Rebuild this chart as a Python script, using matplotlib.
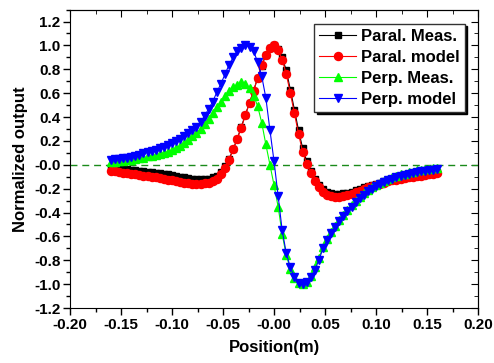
import numpy as np
import matplotlib
matplotlib.use("Agg")
import matplotlib.pyplot as plt

plt.rcParams['font.family'] = ['Liberation Sans', 'DejaVu Sans']
plt.rcParams['font.weight'] = 'bold'

# position grid in mm
position_mm = [-160, -156, -152, -148, -144, -140, -136, -132, -128, -124,
               -120, -116, -112, -108, -104, -100, -96, -92, -88, -84,
               -80, -76, -72, -68, -64, -60, -56, -52, -48, -44,
               -40, -36, -32, -28, -24, -20, -16, -12, -8, -4,
               0, 4, 8, 12, 16, 20, 24, 28, 32, 36,
               40, 44, 48, 52, 56, 60, 64, 68, 72, 76,
               80, 84, 88, 92, 96, 100, 104, 108, 112, 116,
               120, 124, 128, 132, 136, 140, 144, 148, 152, 156, 160]

paral_meas = [-0.02, -0.025, -0.03, -0.03, -0.035, -0.04, -0.045, -0.05, -0.055, -0.06,
              -0.06, -0.065, -0.07, -0.075, -0.08, -0.085, -0.09, -0.10, -0.105, -0.11,
              -0.115, -0.12, -0.12, -0.12, -0.115, -0.105, -0.09, -0.06, -0.01, 0.05,
              0.13, 0.22, 0.32, 0.42, 0.52, 0.62, 0.73, 0.83, 0.92, 0.98,
              1.00, 0.97, 0.90, 0.79, 0.63, 0.46, 0.29, 0.14, 0.03, -0.05,
              -0.12, -0.17, -0.20, -0.23, -0.24, -0.245, -0.245, -0.24, -0.235, -0.225,
              -0.215, -0.205, -0.19, -0.18, -0.17, -0.16, -0.15, -0.14, -0.13, -0.12,
              -0.115, -0.11, -0.10, -0.095, -0.09, -0.085, -0.08, -0.075, -0.07, -0.065, -0.06]

paral_model = [-0.05, -0.055, -0.06, -0.065, -0.07, -0.075, -0.08, -0.085, -0.09, -0.095,
               -0.10, -0.105, -0.11, -0.12, -0.125, -0.13, -0.14, -0.145, -0.15, -0.155,
               -0.16, -0.16, -0.16, -0.155, -0.15, -0.135, -0.115, -0.08, -0.03, 0.04,
               0.13, 0.22, 0.31, 0.42, 0.52, 0.62, 0.73, 0.84, 0.92, 0.98,
               1.00, 0.96, 0.88, 0.76, 0.60, 0.43, 0.26, 0.11, 0.01, -0.07,
               -0.14, -0.19, -0.23, -0.25, -0.265, -0.27, -0.27, -0.265, -0.255, -0.245,
               -0.23, -0.22, -0.205, -0.19, -0.18, -0.17, -0.16, -0.15, -0.14, -0.13,
               -0.125, -0.12, -0.11, -0.105, -0.10, -0.095, -0.09, -0.085, -0.08, -0.075, -0.07]

perp_meas = [0.02, 0.02, 0.03, 0.03, 0.04, 0.04, 0.05, 0.055, 0.06, 0.07,
             0.075, 0.08, 0.09, 0.10, 0.11, 0.12, 0.14, 0.16, 0.18, 0.21,
             0.24, 0.27, 0.30, 0.34, 0.38, 0.43, 0.48, 0.53, 0.58, 0.62,
             0.65, 0.67, 0.69, 0.68, 0.64, 0.58, 0.49, 0.35, 0.17, 0.00,
             -0.17, -0.35, -0.58, -0.76, -0.87, -0.95, -0.99, -1.00, -0.98, -0.93,
             -0.86, -0.78, -0.69, -0.62, -0.56, -0.51, -0.46, -0.42, -0.38, -0.34,
             -0.30, -0.27, -0.24, -0.21, -0.19, -0.17, -0.15, -0.135, -0.12, -0.10,
             -0.095, -0.08, -0.075, -0.06, -0.06, -0.045, -0.045, -0.035, -0.035, -0.025, -0.03]

perp_model = [0.04, 0.045, 0.05, 0.055, 0.06, 0.065, 0.075, 0.085, 0.095, 0.105,
              0.115, 0.125, 0.14, 0.15, 0.165, 0.18, 0.20, 0.22, 0.24, 0.265,
              0.29, 0.32, 0.36, 0.41, 0.47, 0.53, 0.61, 0.68, 0.76, 0.84,
              0.90, 0.95, 0.98, 1.00, 0.99, 0.95, 0.86, 0.74, 0.56, 0.29,
              0.03, -0.26, -0.55, -0.74, -0.86, -0.94, -0.99, -1.00, -0.98, -0.94,
              -0.88, -0.80, -0.70, -0.63, -0.57, -0.52, -0.47, -0.43, -0.39, -0.35,
              -0.31, -0.28, -0.25, -0.22, -0.20, -0.18, -0.16, -0.145, -0.13, -0.115,
              -0.105, -0.095, -0.085, -0.075, -0.07, -0.06, -0.055, -0.05, -0.045, -0.04, -0.035]

pos = np.array(position_mm) / 1000.0

fig = plt.figure(figsize=(4.94, 3.63), dpi=100)
ax = fig.add_axes([0.1417, 0.1515, 0.826, 0.822])

ax.axhline(0, color='#1a8a1a', linestyle=(0, (5, 3.5)), linewidth=1.0, zorder=1)

ax.plot(pos, paral_meas, '-s', color='black', ms=5, lw=0.8, label='Paral. Meas.')
ax.plot(pos, paral_model, '-o', color='red', ms=5.8, lw=0.8, label='Paral. model')
ax.plot(pos, perp_meas, '-^', color='#00ff00', ms=6.4, lw=0.8, label='Perp. Meas.')
ax.plot(pos, perp_model, '-v', color='blue', ms=6.4, lw=0.8, label='Perp. model')

ax.set_xlim(-0.2, 0.2)
ax.set_ylim(-1.2, 1.3)
ax.set_xticks(np.arange(-0.2, 0.2001, 0.05))
ax.set_xticks(np.arange(-0.2, 0.2001, 0.025), minor=True)
ax.set_yticks(np.arange(-1.2, 1.2001, 0.2))
ax.set_yticks(np.arange(-1.2, 1.3001, 0.1), minor=True)
ax.xaxis.set_major_formatter(plt.FormatStrFormatter('%.2f'))
ax.yaxis.set_major_formatter(plt.FormatStrFormatter('%.1f'))
ax.tick_params(which='major', direction='out', length=5, width=1, labelsize=11, pad=2)
ax.tick_params(which='minor', direction='out', length=3, width=1)
for lab in ax.get_xticklabels() + ax.get_yticklabels():
    lab.set_fontweight('bold')

# inward ticks on top and right
top = ax.secondary_xaxis('top')
top.set_xticks(np.arange(-0.2, 0.2001, 0.05))
top.set_xticks(np.arange(-0.2, 0.2001, 0.025), minor=True)
top.tick_params(which='major', direction='in', length=5, labeltop=False)
top.tick_params(which='minor', direction='in', length=3)
right = ax.secondary_yaxis('right')
right.set_yticks(np.arange(-1.2, 1.2001, 0.2))
right.set_yticks(np.arange(-1.2, 1.3001, 0.1), minor=True)
right.tick_params(which='major', direction='in', length=5, labelright=False)
right.tick_params(which='minor', direction='in', length=3)

ax.set_xlabel('Position(m)', fontsize=12, fontweight='bold', labelpad=6)
ax.set_ylabel('Normalized output', fontsize=12, fontweight='bold', labelpad=4)

leg = ax.legend(loc='upper right', bbox_to_anchor=(0.967, 0.953), fontsize=12,
                frameon=True, fancybox=False, edgecolor='#333333',
                shadow={'color': 'black', 'alpha': 1.0},
                handlelength=2.2, handletextpad=0.3, labelspacing=0.36,
                borderpad=0.3, borderaxespad=0.0)
leg.get_frame().set_linewidth(1.0)
for t in leg.get_texts():
    t.set_fontweight('bold')

fig.savefig('out.png', dpi=100)
